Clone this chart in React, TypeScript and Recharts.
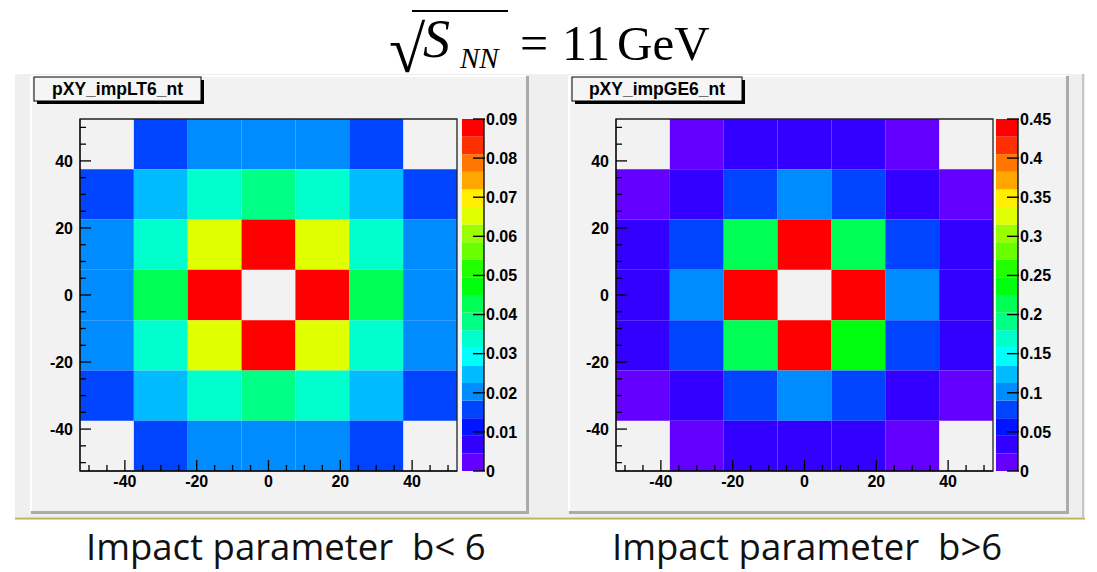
import React from 'react';
import { ComposedChart, XAxis, YAxis, ReferenceArea, Scatter } from 'recharts';

// ---------- data ----------
const binEdges = [-52.5, -37.5, -22.5, -7.5, 7.5, 22.5, 37.5, 52.5];
const axisTicks = [-50, -45, -40, -35, -30, -25, -20, -15, -10, -5, 0, 5, 10, 15, 20, 25, 30, 35, 40, 45, 50];
const labeledTicks = [-40, -20, 0, 20, 40];

const lowBTitle = 'pXY_impLT6_nt';
const highBTitle = 'pXY_impGE6_nt';
const lowBCaption = 'Impact parameter  b< 6';
const highBCaption = 'Impact parameter  b>6';

// rows from top (y = 45) to bottom (y = -45); columns from x = -45 to x = 45
const lowBCells: (number | null)[][] = [
  [null, 0.016, 0.020, 0.020, 0.020, 0.016, null],
  [0.016, 0.025, 0.034, 0.038, 0.034, 0.025, 0.016],
  [0.020, 0.034, 0.065, 0.088, 0.065, 0.034, 0.020],
  [0.020, 0.043, 0.088, null, 0.088, 0.043, 0.020],
  [0.020, 0.034, 0.065, 0.088, 0.065, 0.034, 0.020],
  [0.016, 0.025, 0.034, 0.038, 0.034, 0.025, 0.016],
  [null, 0.016, 0.020, 0.020, 0.020, 0.016, null],
];
const highBCells: (number | null)[][] = [
  [null, 0.015, 0.035, 0.035, 0.035, 0.015, null],
  [0.015, 0.035, 0.080, 0.100, 0.080, 0.035, 0.015],
  [0.035, 0.080, 0.210, 0.440, 0.210, 0.080, 0.035],
  [0.035, 0.100, 0.440, null, 0.440, 0.100, 0.035],
  [0.035, 0.080, 0.210, 0.440, 0.235, 0.080, 0.035],
  [0.015, 0.035, 0.080, 0.100, 0.080, 0.035, 0.015],
  [null, 0.015, 0.035, 0.035, 0.035, 0.015, null],
];

const lowBZMax = 0.09;
const lowBZTicks = [0, 0.01, 0.02, 0.03, 0.04, 0.05, 0.06, 0.07, 0.08, 0.09];
const highBZMax = 0.45;
const highBZTicks = [0, 0.05, 0.1, 0.15, 0.2, 0.25, 0.3, 0.35, 0.4, 0.45];

// ROOT "pretty" palette: 50 hues from violet to red, 20 contour levels
const contourCount = 20;
const paletteSize = 50;
const paletteMaxHue = 280;

function contourColor(k: number) {
  const idx = Math.floor(((k + 0.99) * paletteSize) / contourCount);
  const hue = paletteMaxHue - ((idx + 1) * paletteMaxHue) / paletteSize;
  return `hsl(${hue}, 100%, 50%)`;
}
function valueColor(v: number, zMax: number) {
  const k = Math.min(contourCount - 1, Math.floor((v / zMax) * contourCount));
  return contourColor(k);
}

type Cell = { x1: number; x2: number; y1: number; y2: number; x: number; y: number; value: number };
function buildCells(grid: (number | null)[][]): Cell[] {
  const out: Cell[] = [];
  grid.forEach((row, r) =>
    row.forEach((v, c) => {
      if (v == null) return;
      const top = binEdges.length - 1 - r;
      const x1 = binEdges[c], x2 = binEdges[c + 1];
      const y1 = binEdges[top - 1], y2 = binEdges[top];
      out.push({ x1, x2, y1, y2, x: (x1 + x2) / 2, y: (y1 + y2) / 2, value: v });
    })
  );
  return out;
}

// ---------- styling ----------
const tickFont = {
  fontFamily: '"Liberation Sans", Arial, Helvetica, sans-serif',
  fontWeight: 700,
  fontSize: 16,
  fill: '#000',
};

function YTick(props: any) {
  const { x, y, payload } = props;
  const v = payload.value;
  const major = labeledTicks.includes(v);
  return (
    <g>
      <line x1={x} x2={x + (major ? 11 : 6)} y1={y} y2={y} stroke="#000" strokeWidth={1.3} />
      {major && (
        <text x={x - 7} y={y} dy="0.36em" textAnchor="end" {...tickFont}>
          {v}
        </text>
      )}
    </g>
  );
}
function XTick(props: any) {
  const { x, y, payload } = props;
  const v = payload.value;
  const major = labeledTicks.includes(v);
  return (
    <g>
      <line x1={x} x2={x} y1={y} y2={y - (major ? 11 : 6)} stroke="#000" strokeWidth={1.3} />
      {major && (
        <text x={x} y={y + 16} textAnchor="middle" {...tickFont}>
          {v}
        </text>
      )}
    </g>
  );
}
function ZTick(props: any) {
  const { x, y, payload } = props;
  return (
    <g>
      <line x1={x - 11} x2={x + 1} y1={y} y2={y} stroke="#000" strokeWidth={1.4} />
      <text x={x + 2} y={y} dy="0.36em" textAnchor="start" {...tickFont}>
        {String(payload.value)}
      </text>
    </g>
  );
}

function HeatMap({ left, grid, zMax }: { left: number; grid: (number | null)[][]; zMax: number }) {
  const cells = buildCells(grid);
  return (
    <div style={{ position: 'absolute', left, top: 0 }}>
      <ComposedChart width={470} height={572} data={cells} margin={{ top: 119, right: 13, bottom: 71, left: 40 }}>
        <XAxis
          type="number"
          dataKey="x"
          domain={[binEdges[0], binEdges[binEdges.length - 1]]}
          allowDataOverflow
          ticks={axisTicks}
          interval={0}
          tickSize={0}
          tickMargin={0}
          height={30}
          axisLine={{ stroke: '#000' }}
          tickLine={false}
          tick={XTick}
        />
        <YAxis
          type="number"
          dataKey="y"
          domain={[binEdges[0], binEdges[binEdges.length - 1]]}
          allowDataOverflow
          ticks={axisTicks}
          interval={0}
          tickSize={0}
          tickMargin={0}
          width={40}
          axisLine={{ stroke: '#000' }}
          tickLine={false}
          tick={YTick}
        />
        {cells.map((c, i) => (
          <ReferenceArea
            key={i}
            x1={c.x1}
            x2={c.x2}
            y1={c.y1}
            y2={c.y2}
            fill={valueColor(c.value, zMax)}
            fillOpacity={1}
            stroke="none"
            ifOverflow="visible"
          />
        ))}
        <Scatter dataKey="y" isAnimationActive={false} shape={() => <g />} />
        <ReferenceArea
          x1={binEdges[0]}
          x2={binEdges[binEdges.length - 1]}
          y1={binEdges[0]}
          y2={binEdges[binEdges.length - 1]}
          fill="none"
          stroke="#222"
          strokeWidth={1.3}
          ifOverflow="visible"
        />
      </ComposedChart>
    </div>
  );
}

function ColorBar({ left, zMax, zTicks }: { left: number; zMax: number; zTicks: number[] }) {
  const step = zMax / contourCount;
  const bands = Array.from({ length: contourCount }, (_, k) => ({ x: 0.5, y: (k + 0.5) * step, y1: k * step, y2: (k + 1) * step, k }));
  return (
    <div style={{ position: 'absolute', left, top: 0 }}>
      <ComposedChart width={80} height={572} data={bands} margin={{ top: 119, right: 18, bottom: 101, left: 0 }}>
        <XAxis type="number" dataKey="x" domain={[0, 1]} hide />
        <YAxis
          yAxisId={0}
          type="number"
          dataKey="y"
          orientation="right"
          domain={[0, zMax]}
          allowDataOverflow
          ticks={zTicks}
          interval={0}
          tickSize={0}
          tickMargin={0}
          width={40}
          axisLine={{ stroke: '#000', strokeWidth: 1.3 }}
          tickLine={false}
          tick={ZTick}
        />
        {bands.map((b) => (
          <ReferenceArea
            key={b.k}
            x1={0}
            x2={1}
            y1={b.y1}
            y2={b.y2}
            fill={contourColor(b.k)}
            fillOpacity={1}
            stroke="none"
            ifOverflow="visible"
          />
        ))}
        <Scatter dataKey="y" isAnimationActive={false} shape={() => <g />} />
      </ComposedChart>
    </div>
  );
}

function Pad({ x, w, title, boxW }: { x: number; w: number; title: string; boxW: number }) {
  return (
    <g>
      <rect x={x} y={76} width={w} height={435} fill="#f2f2f2" />
      <line x1={x} y1={76} x2={x} y2={511} stroke="#ffffff" strokeWidth={2} />
      <line x1={x} y1={76} x2={x + w} y2={76} stroke="#ffffff" strokeWidth={2} />
      <rect x={x + w} y={76} width={3} height={438} fill="#ababab" />
      <rect x={x} y={511} width={w + 3} height={3} fill="#ababab" />
      <rect x={x + 6} y={80} width={boxW} height={24} fill="#000" />
      <rect x={x + 3} y={77} width={boxW} height={24} fill="#f5f5f5" stroke="#000" strokeWidth={1} />
      <text
        x={x + 3 + boxW / 2}
        y={95}
        textAnchor="middle"
        fontFamily='"Liberation Sans", Arial, sans-serif'
        fontWeight={700}
        fontSize={17.5}
        fill="#000"
      >
        {title}
      </text>
    </g>
  );
}

export default function App() {
  return (
    <div style={{ position: 'absolute', left: 0, top: 0, width: 1097, height: 572, background: '#ffffff', overflow: 'hidden' }}>
      <svg width={1097} height={572} style={{ position: 'absolute', left: 0, top: 0 }}>
        <rect x={15} y={74} width={1070} height={443} fill="#efefef" />
        <line x1={1083} y1={74} x2={1083} y2={517} stroke="#c4c4c4" strokeWidth={2} />
        <Pad x={31} w={495} title={lowBTitle} boxW={167} />
        <Pad x={569} w={497} title={highBTitle} boxW={170} />
        <line x1={15} y1={518.5} x2={1085} y2={518.5} stroke="#b7b45a" strokeWidth={2} />

        {/* formula title */}
        <g fontFamily='"Liberation Serif", "Times New Roman", serif' fill="#000">
          <text x={389} y={72} fontSize={66}>√</text>
          <line x1={412} y1={11} x2={508} y2={11} stroke="#000" strokeWidth={2} />
          <text x={423} y={57} fontSize={54} fontStyle="italic">S</text>
          <text x={460} y={68} fontSize={29} fontStyle="italic">NN</text>
          <text x={520} y={60} fontSize={50}>=</text>
          <text x={562} y={60} fontSize={50}>11</text>
          <text x={617} y={60} fontSize={49}>GeV</text>
        </g>

        {/* captions */}
        <text x={86} y={560} fontFamily='"Open Sans", sans-serif' fontSize={36.5} fill="#111" style={{ whiteSpace: 'pre' }}>
          {lowBCaption}
        </text>
        <text x={612} y={560} fontFamily='"Open Sans", sans-serif' fontSize={36.5} fill="#111" style={{ whiteSpace: 'pre' }}>
          {highBCaption}
        </text>
      </svg>

      <HeatMap left={0} grid={lowBCells} zMax={lowBZMax} />
      <ColorBar left={462} zMax={lowBZMax} zTicks={lowBZTicks} />
      <HeatMap left={536} grid={highBCells} zMax={highBZMax} />
      <ColorBar left={996} zMax={highBZMax} zTicks={highBZTicks} />
    </div>
  );
}
